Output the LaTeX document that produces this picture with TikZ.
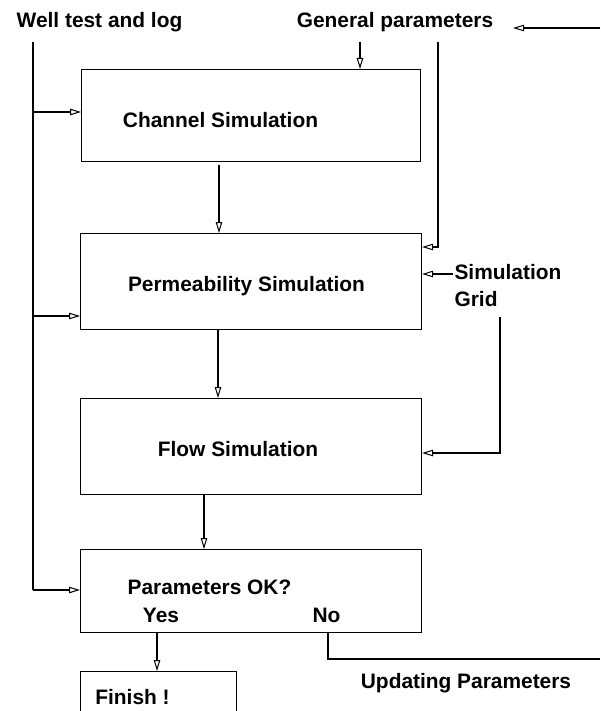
\documentclass[tikz,border=0pt]{standalone}
\usepackage{fontspec}
\setmainfont{Liberation Sans}
\usetikzlibrary{arrows.meta}

\begin{document}
\begin{tikzpicture}[x=1pt,y=-1pt,line width=1.1pt,
        box/.style={draw,anchor=north west,inner sep=0pt},
        lbl/.style={inner sep=0pt,font=\fontsize{20.9}{25}\bfseries\selectfont},
        flow/.style={-{Triangle[open,length=11pt,width=6.5pt,line width=1pt]}}]
        \useasboundingbox (0,0) rectangle (600,711);

        % boxes
        \node[box,minimum width=339pt,minimum height=92pt] (chan) at (81,69) {};
        \node[box,minimum width=341pt,minimum height=96pt] (perm) at (80,233) {};
        \node[box,minimum width=341pt,minimum height=96pt] (flw) at (80,398) {};
        \node[box,minimum width=341pt,minimum height=83pt] (check) at (80,549) {};
        \node[box,minimum width=156pt,minimum height=60pt] (finish) at (80,671) {};

        % texts
        \node[lbl] (well) at (99.5,22) {Well test and log};
        \node[lbl] (gen) at (395,22) {General parameters};
        \node[lbl] (chantxt) at (220.5,120) {Channel Simulation};
        \node[lbl] (permtxt) at (246.5,286) {Permeability Simulation};
        \node[lbl] (flwtxt) at (238,449) {Flow Simulation};
        \node[lbl] (checktxt) at (209.5,587) {Parameters OK?};
        \node[lbl] (yes) at (161,615) {Yes};
        \node[lbl] (no) at (326.5,615) {No};
        \node[lbl] (fintxt) at (132.5,697) {Finish !};
        \node[lbl,anchor=west] (sim) at (454,272) {Simulation};
        \node[lbl,anchor=west] (grid) at (454,299) {Grid};
        \node[lbl] (upd) at (466,683) {Updating Parameters};

        % free ends
        \coordinate (wtop) at (33,42);
        \coordinate (wend) at (33,590);
        \coordinate (gtop) at (360,42);
        \coordinate (rtop) at (438,42);
        \coordinate (rturn) at (438,247);
        \coordinate (b1) at (33,112);
        \coordinate (b2) at (33,316);
        \coordinate (simend) at (453,274);
        \coordinate (gridtop) at (500,317);
        \coordinate (gridturn) at (500,453);
        \coordinate (noturn) at (328,659);
        \coordinate (noend) at (600,659);
        \coordinate (back) at (600,28);
        \coordinate (backtip) at (513,28);

        % well test and log
        \draw (wtop) -- (wend);
        \draw[flow] (b1) -- (b1 -| chan.west);
        \draw[flow] (b2) -- (b2 -| perm.west);
        \draw[flow] (wend) -- (wend -| check.west);

        % general parameters
        \draw[flow] (gtop) -- (gtop |- chan.north);
        \draw[flow] (rtop) -- (rturn) -- (rturn -| perm.east);
        \draw[flow] (back) -- (backtip);

        % main chain
        \draw[flow] (219,165) -- (219,233);
        \draw[flow] (perm.south -| 218,0) -- (flw.north -| 218,0);
        \draw[flow] (flw.south -| 204,0) -- (check.north -| 204,0);
        \draw[flow] (check.south -| 157,0) -- (finish.north -| 157,0);

        % simulation grid
        \draw[flow] (simend) -- (simend -| perm.east);
        \draw[flow] (gridtop) -- (gridturn) -- (gridturn -| flw.east);

        % no
        \draw (check.south -| noturn) -- (noturn) -- (noend);
    \end{tikzpicture}
\end{document}
